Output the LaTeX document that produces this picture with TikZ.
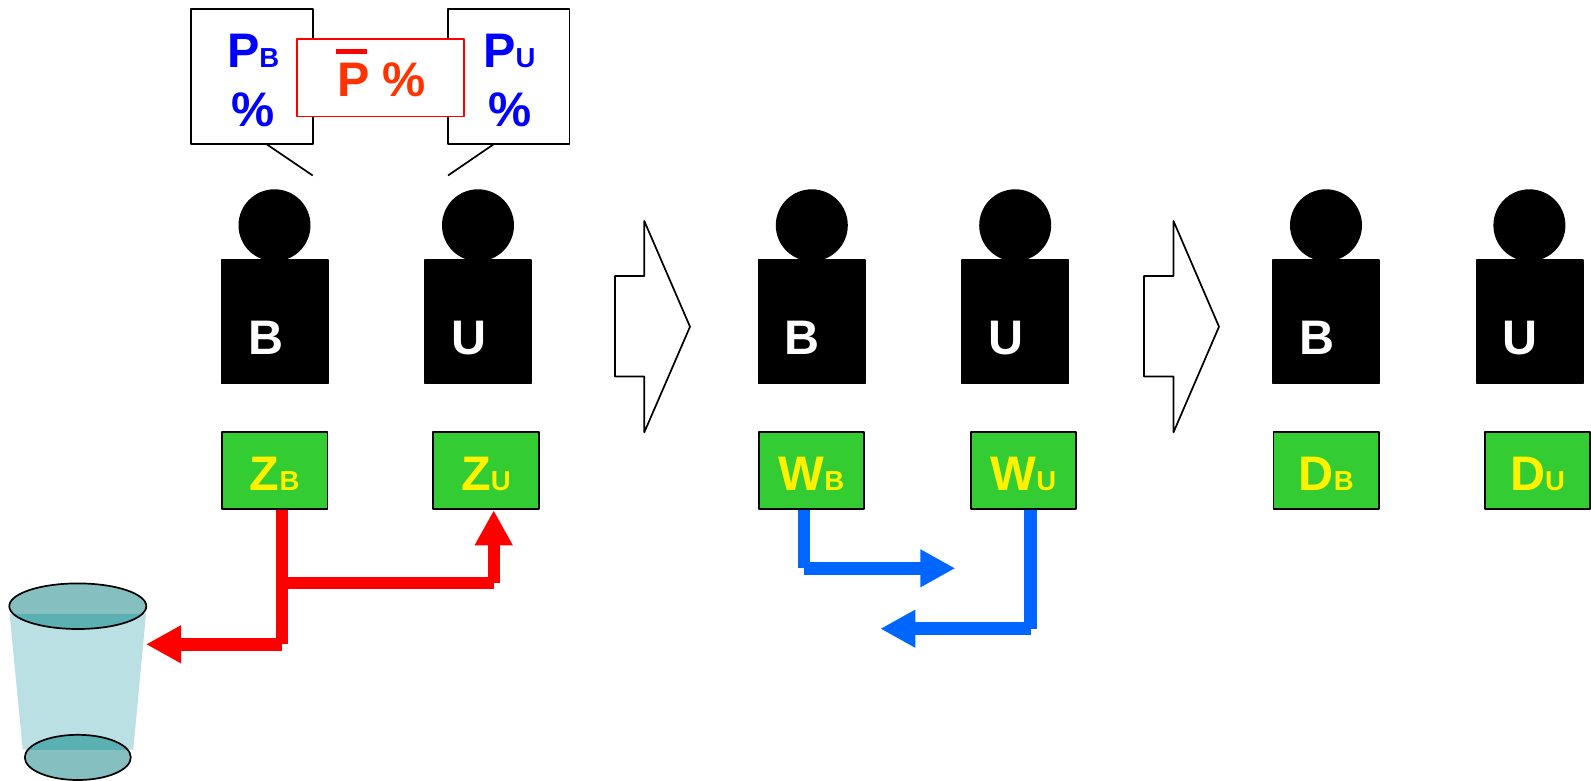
\documentclass[tikz,border=0pt]{standalone}
\usepackage{fontspec}
\setmainfont{Liberation Sans}[BoldFont={Liberation Sans Bold}]
\usetikzlibrary{arrows.meta}
\definecolor{boxgreen}{HTML}{33CC33}
\definecolor{flowblue}{HTML}{0066FF}
\definecolor{avgred}{HTML}{FF3300}
\definecolor{cupbody}{HTML}{BBE0E3}
\definecolor{cupend}{HTML}{85BFBF}
\definecolor{cupover}{HTML}{5BB0B3}
\newcommand{\lab}[2]{{\fontsize{48.5}{48.5}\selectfont #1}{\fontsize{27.5}{27.5}\selectfont #2}}
\tikzset{
  x=1pt,y=-1pt,
  bodybox/.style={rectangle,draw=black,fill=black,line width=1.8pt,line join=round,minimum width=106.2pt,minimum height=123.4pt,inner sep=0pt},
  headdisc/.style={circle,fill=black,minimum size=72pt,inner sep=0pt},
  bodytext/.style={anchor=base,inner sep=0pt,text=white,font=\bfseries\fontsize{48.5}{48.5}\selectfont},
  greenbox/.style={rectangle,draw=black,fill=boxgreen,line width=1.9pt,line join=round,minimum width=105.6pt,minimum height=77pt,inner sep=0pt,text=yellow,font=\bfseries,text height=38.4pt,text depth=0pt},
  speechbox/.style={rectangle,draw=black,fill=white,line width=1.9pt,line join=round,minimum width=121.6pt,minimum height=135pt,inner sep=0pt},
  avgbox/.style={rectangle,draw=red,fill=white,line width=1.7pt,line join=round,minimum width=167.3pt,minimum height=77.7pt,inner sep=0pt},
  bluetext/.style={anchor=base,inner sep=0pt,text=blue,font=\bfseries},
  speechline/.style={draw=black,line width=1.7pt},
  blockarrow/.style={draw=black,line width=1.7pt,fill=white,line join=round},
  cupedge/.style={draw=black,line width=1.7pt},
  redflow/.style={draw=red,line width=12pt},
  blueflow/.style={draw=flowblue,line width=12.6pt},
  flowhead/.style={-{Triangle[length=35pt,width=35.5pt]}},
}
\begin{document}
\begin{tikzpicture}
\useasboundingbox (0,0) rectangle (1591,781);
% cup
\fill[cupbody] (9.6,614) -- (146,614) -- (133.3,749.5) -- (22.7,749.5) -- cycle;
\fill[cupend] (77.8,606.2) ellipse [x radius=68.5,y radius=22.8];
\fill[cupend] (77.8,757.4) ellipse [x radius=53,y radius=22.6];
\begin{scope}
  \clip (0,614) rectangle (160,640);
  \fill[cupover] (77.8,606.2) ellipse [x radius=68.5,y radius=22.8];
\end{scope}
\begin{scope}
  \clip (0,725) rectangle (160,749.5);
  \fill[cupover] (77.8,757.4) ellipse [x radius=53,y radius=22.6];
\end{scope}
\draw[cupedge] (77.8,606.2) ellipse [x radius=68.5,y radius=22.8];
\draw[cupedge] (77.8,757.4) ellipse [x radius=53,y radius=22.6];
\coordinate (cupin) at (146,644.3);
% speech boxes
\coordinate (tb) at (267,144.5);
\coordinate (tbe) at (312.7,175.5);
\coordinate (tu) at (493.3,144.5);
\coordinate (tue) at (448,175.5);
\draw[speechline] (tb) -- (tbe);
\draw[speechline] (tu) -- (tue);
\node[speechbox] (PB) at (251.8,76.5) {};
\node[speechbox] (PU) at (508.7,76.5) {};
\node[avgbox] (PA) at (380.6,77.8) {};
\node[bluetext] (PBt) at (253.2,67.3) {\lab{P}{B}};
\node[bluetext] (PBp) at (252.8,126.5) {\fontsize{48.5}{48.5}\selectfont \%};
\node[bluetext] (PUt) at (509.4,67.3) {\lab{P}{U}};
\node[bluetext] (PUp) at (509.8,126.5) {\fontsize{48.5}{48.5}\selectfont \%};
\node[anchor=base,inner sep=0pt,text=avgred,font=\bfseries\fontsize{48.5}{48.5}\selectfont] (PAt) at (381.6,97) {P \%};
\fill[red] (336,49) rectangle (366.7,54.3);
% people
\node[headdisc] (h1) at (274.5,225.3) {};
\node[headdisc] (h2) at (478,225.3) {};
\node[headdisc] (h3) at (811.8,225.3) {};
\node[headdisc] (h4) at (1015.2,225.3) {};
\node[headdisc] (h5) at (1326,225.3) {};
\node[headdisc] (h6) at (1529.4,225.3) {};
\node[bodybox] (b1) at (274.5,321.7) {};
\node[bodybox] (b2) at (478,321.7) {};
\node[bodybox] (b3) at (811.5,321.7) {};
\node[bodybox] (b4) at (1015.3,321.7) {};
\node[bodybox] (b5) at (1326.2,321.7) {};
\node[bodybox] (b6) at (1529.7,321.7) {};
\node[bodytext] (t1) at (265.8,354.7) {B};
\node[bodytext] (t2) at (468.8,354.7) {U};
\node[bodytext] (t3) at (802.2,354.7) {B};
\node[bodytext] (t4) at (1006,354.7) {U};
\node[bodytext] (t5) at (1316.8,354.7) {B};
\node[bodytext] (t6) at (1520,354.7) {U};
% block arrows
\draw[blockarrow] (615,276) -- (644.3,276) -- (644.3,221) -- (690,326.7) -- (644.3,432.3) -- (644.3,376.5) -- (615,376.5) -- cycle;
\draw[blockarrow] (1144,276) -- (1173.5,276) -- (1173.5,221) -- (1219,326.7) -- (1173.5,432.3) -- (1173.5,376.5) -- (1144,376.5) -- cycle;
% green boxes
\node[greenbox] (ZB) at (274.7,470.8) {\lab{Z}{B}};
\node[greenbox] (ZU) at (486,470.8) {\lab{Z}{U}};
\node[greenbox] (WB) at (811.5,470.8) {\lab{W}{B}};
\node[greenbox] (WU) at (1023.5,470.8) {\lab{W}{U}};
\node[greenbox] (DB) at (1326.3,470.8) {\lab{D}{B}};
\node[greenbox] (DU) at (1537.5,470.8) {\lab{D}{U}};
% red flows
\coordinate (rj) at (282,583);
\coordinate (rk) at (493.7,583);
\coordinate (rl) at (282,644.3);
\draw[redflow] (ZB.south -| rj) -- (rl);
\draw[redflow] (rj) -- (rk);
\draw[redflow,flowhead] (rk) -- (ZU.south -| rk);
\draw[redflow,line width=12.7pt,flowhead] (rl) -- (cupin);
% blue flows
\coordinate (bj) at (804,568.3);
\coordinate (bt) at (955.3,568.3);
\coordinate (bk) at (1030.5,628.7);
\coordinate (bt2) at (880.3,628.7);
\draw[blueflow] (WB.south -| bj) -- (bj);
\draw[blueflow,flowhead] (bj) -- (bt);
\draw[blueflow] (WU.south -| bk) -- (bk);
\draw[blueflow,flowhead] (bk) -- (bt2);
\end{tikzpicture}
\end{document}
